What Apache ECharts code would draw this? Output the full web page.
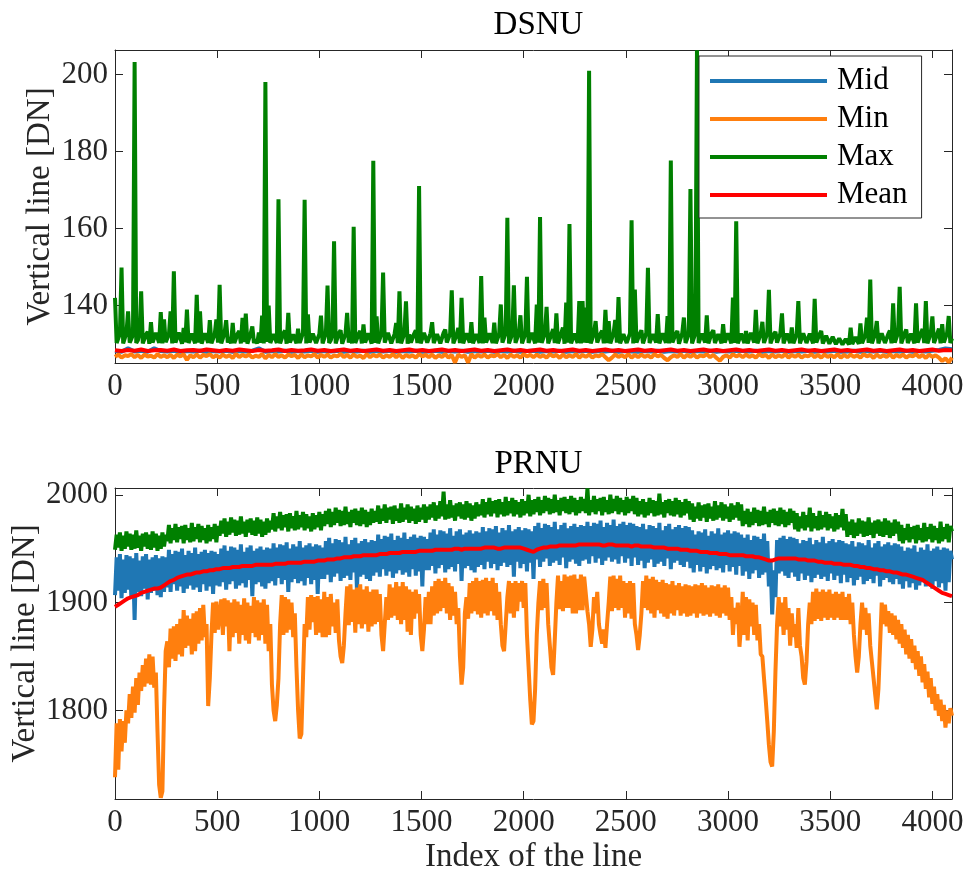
<!DOCTYPE html>
<html><head><meta charset="utf-8">
<script src="https://cdn.jsdelivr.net/npm/echarts@6/dist/echarts.min.js"></script>
<style>html,body{margin:0;padding:0;background:#fff}#c{width:967px;height:876px}</style>
</head><body><div id="c"></div><script>
// ---------- data ----------
const STEP_DENSE = 8;    // line index step between samples (dense noisy series)
const STEP_FINE = 16;
const STEP_COARSE = 32;
const seriesNames = ['Mid', 'Min', 'Max', 'Mean'];
const xTicks = [0, 500, 1000, 1500, 2000, 2500, 3000, 3500, 4000];
const dsnuTicks = [140, 160, 180, 200];
const prnuTicks = [1800, 1900, 2000];

// DSNU Mid (step 32)
const dsnuMid = [
128.2,128.0,128.9,128.1,128.3,128.0,128.9,128.2,128.1,128.3,128.0,128.2,128.1,128.3,128.0,128.2,
128.1,128.3,128.0,128.2,128.1,128.3,128.9,128.0,128.2,128.1,128.3,128.0,128.2,128.1,128.3,128.0,
128.2,128.1,128.3,128.0,128.2,128.1,128.3,128.0,128.2,128.1,128.3,128.0,128.2,128.1,128.3,128.0,
128.1,128.3,128.0,128.2,128.1,128.3,128.0,128.2,128.1,128.3,128.0,128.2,128.1,128.3,128.0,128.2,
128.3,128.0,128.2,128.1,128.3,128.0,128.2,128.1,128.3,128.0,128.2,128.1,128.3,128.0,128.2,128.1,
128.0,128.2,128.1,128.3,128.0,128.2,128.1,128.3,128.0,128.2,128.1,128.3,128.0,128.2,128.1,128.3,
128.2,128.1,128.3,128.0,128.2,128.1,128.3,128.0,128.2,128.1,128.3,128.0,128.2,128.1,128.3,128.0,
128.1,128.3,128.0,128.2,128.1,128.3,128.0,128.2,128.1,128.3,128.0,128.2,128.1,128.3,128.5,128.9,
128.7];
// DSNU Mean (step 32)
const dsnuMean = [
128.4,128.2,128.5,128.3,128.6,128.2,128.4,128.5,128.3,128.6,128.2,128.4,128.5,128.3,128.6,128.4,
128.2,128.5,128.3,128.6,128.4,128.2,128.5,128.3,128.4,128.6,128.2,128.5,128.3,128.4,128.6,128.3,
128.5,128.2,128.4,128.6,128.3,128.5,128.2,128.4,128.6,128.3,128.5,128.2,128.4,128.6,128.3,128.5,
128.2,128.4,128.6,128.3,128.5,128.2,128.4,128.6,128.3,128.5,128.2,128.4,128.6,128.3,128.5,128.2,
128.4,128.6,128.3,128.5,128.2,128.4,128.6,128.3,128.5,128.2,128.4,128.6,128.3,128.5,128.2,128.4,
128.6,128.3,128.5,128.2,128.4,128.6,128.3,128.5,128.2,128.4,128.6,128.3,128.5,128.2,128.4,128.6,
128.3,128.5,128.2,128.4,128.6,128.3,128.5,128.2,128.4,128.6,128.3,128.5,128.2,128.4,128.6,128.3,
128.5,128.2,128.4,128.6,128.3,128.5,128.2,128.4,128.6,128.3,128.5,128.2,128.4,128.6,128.3,128.5,
128.4];
// DSNU Min (step 16)
const dsnuMin = [
126.7,127.3,126.5,127.1,126.9,127.4,126.6,127.2,126.4,127.3,126.8,127.0,126.5,127.4,126.7,127.1,
126.6,127.2,126.4,127.3,126.8,127.4,125.9,127.1,126.6,127.3,126.5,127.2,126.9,127.4,126.6,127.1,
126.5,127.3,126.7,127.1,126.4,127.5,126.6,127.2,126.8,127.3,126.5,127.0,126.7,127.4,126.3,127.2,
126.6,127.4,126.7,127.1,126.5,127.3,126.9,127.2,126.4,127.3,126.6,127.1,126.8,127.4,126.5,127.2,
126.7,127.3,126.5,127.1,126.8,127.5,126.6,127.2,126.5,127.3,126.7,127.0,126.4,127.4,126.6,127.2,
126.8,127.3,126.5,127.1,126.7,127.4,126.6,127.3,126.4,127.2,126.7,127.1,126.5,127.4,126.8,127.2,
126.6,127.3,126.4,127.1,126.7,127.4,126.5,127.2,125.2,127.3,126.7,127.1,125.2,127.4,126.5,127.2,
126.7,127.3,126.5,127.1,126.8,127.4,126.6,127.2,126.4,127.3,126.7,127.1,126.5,127.4,126.8,127.2,
126.6,127.3,126.7,127.1,126.5,127.4,126.8,127.2,126.4,127.3,126.6,127.1,126.7,127.4,126.5,127.2,
126.7,127.3,126.5,127.1,126.8,127.4,126.6,125.8,126.5,127.3,126.7,127.1,126.6,127.4,126.5,127.2,
126.6,127.3,126.7,127.1,126.5,127.4,126.8,127.2,126.4,125.8,126.6,127.1,126.7,127.4,126.5,127.2,
126.7,127.3,126.5,127.1,126.8,127.4,126.6,127.2,126.4,125.7,126.7,127.1,126.5,127.4,126.8,127.2,
126.6,127.3,126.7,127.1,126.5,127.4,126.8,127.2,126.4,127.3,126.6,127.1,126.7,127.4,126.5,127.2,
126.7,127.3,126.5,127.1,126.8,127.4,126.6,127.2,126.5,127.3,126.7,127.1,126.6,127.4,126.5,127.2,
126.6,127.3,126.7,127.1,126.5,127.4,126.8,127.2,126.4,127.3,126.6,127.1,126.7,127.4,126.5,127.2,
126.7,127.3,126.5,127.1,126.8,127.4,126.6,127.2,126.4,127.3,126.7,127.1,126.5,125.6,126.3,125.3,
126.5];
// DSNU Max (step 8)
const dsnuMax = [
142.0,130.3,130.2,132.7,149.9,130.2,130.5,132.9,138.5,130.4,130.0,132.4,203.3,130.3,131.0,132.8,143.7,130.2,130.4,132.5,133.2,130.1,135.7,130.4,130.1,132.9,132.6,130.3,138.3,130.2,136.4,130.5,
130.3,132.6,138.5,130.2,148.9,130.4,130.6,133.0,132.8,130.1,134.2,130.5,139.0,130.3,130.2,132.7,133.0,130.2,142.8,130.4,138.5,130.1,130.4,132.8,132.5,130.3,136.2,130.2,130.0,132.6,136.4,130.4,
145.4,130.2,130.3,132.9,136.2,130.4,131.8,130.2,135.5,130.3,130.1,132.7,133.4,130.2,136.8,130.5,137.9,130.1,130.5,132.8,134.6,130.3,131.2,130.2,133.0,130.4,137.4,130.2,198.1,130.6,140.0,130.3,
130.2,132.6,132.9,130.3,167.6,130.2,130.4,132.8,133.5,130.1,138.1,130.4,130.0,132.5,132.7,130.2,134.0,130.3,130.3,132.9,167.5,130.2,137.7,130.4,130.1,132.7,133.1,130.3,130.6,132.6,137.4,130.2,
130.2,132.8,145.2,130.3,131.0,132.5,156.7,130.2,130.3,132.9,133.6,130.1,130.5,132.7,138.1,130.4,132.2,130.2,160.5,130.3,130.2,132.6,133.4,130.2,135.1,130.4,130.4,132.8,132.9,130.1,177.6,130.3,
137.2,130.2,130.3,132.7,148.6,130.4,130.6,132.9,133.2,130.2,130.1,132.6,135.5,130.3,143.7,130.2,130.4,132.8,141.1,130.1,132.5,130.4,130.2,132.7,133.6,130.3,171.1,130.2,130.5,132.9,132.8,130.4,
130.1,132.8,135.7,130.3,130.4,132.6,132.6,130.2,130.2,132.9,133.8,130.4,130.5,132.7,144.0,130.2,130.3,132.5,134.2,130.3,142.0,130.2,130.1,132.8,132.7,130.4,135.7,130.2,130.4,132.6,133.1,130.3,
147.7,130.2,136.9,130.4,130.2,132.8,133.0,130.3,135.6,130.2,130.3,132.7,140.3,130.4,130.6,132.9,162.8,130.2,130.2,132.6,145.3,130.3,130.5,132.8,137.5,130.2,130.1,132.7,147.5,130.3,130.4,132.9,
133.4,130.2,140.3,130.4,163.0,130.3,130.2,132.8,139.7,130.2,130.5,132.6,133.9,130.3,138.0,130.2,130.3,132.9,134.3,130.1,140.8,130.4,161.2,130.2,130.4,132.7,133.2,130.3,141.2,130.2,141.2,130.4,
139.5,130.3,201.0,130.2,130.3,132.8,136.0,130.4,130.6,132.7,133.5,130.2,138.9,130.3,136.0,130.2,130.2,132.9,136.3,130.4,142.2,130.2,130.4,132.6,133.0,130.3,130.1,132.8,162.2,130.2,144.2,130.4,
130.3,132.7,133.6,130.2,130.5,132.9,149.8,130.3,130.2,132.6,132.8,130.4,137.8,130.2,130.4,132.8,133.1,130.3,137.3,130.2,177.7,130.4,130.2,132.7,133.4,130.1,130.6,132.9,136.9,130.3,130.3,132.6,
170.3,130.2,130.4,132.8,206.3,130.3,130.2,132.7,133.2,130.4,137.5,130.2,130.5,132.9,133.6,130.3,130.2,132.6,132.9,130.2,135.2,130.4,130.4,132.8,133.0,130.2,142.1,130.3,161.9,130.2,130.3,132.7,
132.8,130.3,133.4,130.2,130.2,132.9,132.6,130.4,138.9,130.2,130.4,132.7,135.8,130.3,130.1,132.8,144.1,130.2,130.5,132.6,133.2,130.4,130.3,132.8,138.0,130.2,130.2,132.7,132.7,130.3,134.3,130.2,
130.4,132.6,141.2,130.2,130.2,132.8,132.9,130.3,130.5,132.7,133.1,130.2,141.8,130.4,130.3,132.6,133.4,130.2,130.1,132.2,132.4,130.1,130.0,131.9,131.8,130.0,129.9,131.5,131.2,129.9,129.9,131.3,
131.0,129.9,134.3,130.0,130.0,131.8,132.2,130.1,135.4,130.2,130.2,132.4,136.9,130.3,146.8,130.2,130.3,132.7,136.0,130.2,130.4,132.8,133.0,130.3,130.2,132.6,133.5,130.2,140.6,130.4,130.5,132.9,
144.9,130.2,130.3,132.8,133.8,130.3,130.4,132.7,133.2,130.2,140.6,130.4,130.2,132.9,133.9,130.3,141.2,130.2,130.5,132.8,137.2,130.3,130.3,132.7,134.0,130.2,135.2,130.4,130.6,132.9,137.3,130.3,
131.5];

// PRNU Mid (step 8)
const prnuMid = [
1907,1942,1911,1945,1904,1940,1909,1944,1912,1943,1905,1941,1884,1946,1910,1939,1906,1943,1913,1945,1903,1940,1909,1942,1911,1944,1907,1941,1905,1943,1910,1942,
1914,1949,1910,1945,1917,1948,1911,1947,1915,1950,1909,1944,1913,1948,1916,1946,1912,1951,1914,1945,1910,1947,1917,1949,1911,1946,1915,1948,1908,1947,1916,1945,
1915,1950,1919,1953,1912,1948,1917,1952,1920,1951,1913,1949,1916,1954,1918,1947,1914,1951,1921,1953,1906,1948,1917,1950,1919,1952,1915,1949,1913,1951,1918,1950,
1920,1955,1916,1951,1923,1954,1917,1953,1921,1956,1910,1950,1919,1954,1922,1952,1918,1957,1920,1951,1916,1953,1923,1955,1917,1952,1921,1954,1908,1953,1922,1951,
1922,1957,1926,1960,1919,1955,1924,1959,1927,1958,1920,1956,1923,1961,1925,1954,1921,1958,1928,1960,1912,1955,1924,1957,1926,1959,1922,1956,1920,1958,1925,1957,
1928,1963,1924,1959,1931,1962,1925,1961,1929,1964,1923,1958,1927,1962,1930,1960,1926,1965,1928,1959,1924,1961,1931,1963,1925,1960,1929,1962,1915,1961,1930,1959,
1930,1965,1934,1968,1927,1963,1932,1967,1935,1966,1928,1964,1931,1969,1933,1962,1929,1966,1936,1968,1920,1963,1932,1965,1934,1967,1930,1964,1928,1966,1933,1965,
1935,1970,1931,1966,1938,1969,1932,1968,1936,1971,1930,1965,1934,1969,1937,1967,1933,1972,1935,1966,1924,1968,1938,1970,1932,1967,1936,1969,1929,1968,1937,1966,
1922,1971,1940,1974,1933,1969,1938,1973,1941,1972,1934,1970,1937,1975,1939,1968,1935,1972,1942,1974,1932,1969,1938,1971,1940,1973,1936,1970,1934,1972,1939,1971,
1940,1975,1936,1971,1943,1974,1937,1973,1941,1976,1935,1970,1939,1974,1942,1972,1938,1977,1940,1971,1936,1973,1943,1975,1937,1972,1941,1974,1934,1973,1942,1971,
1935,1970,1939,1973,1932,1968,1937,1972,1940,1971,1933,1969,1936,1974,1938,1967,1934,1971,1941,1973,1931,1968,1937,1970,1939,1972,1935,1969,1933,1971,1938,1970,
1932,1967,1928,1963,1935,1966,1929,1965,1933,1968,1927,1962,1931,1966,1934,1964,1930,1969,1932,1963,1928,1965,1935,1967,1929,1964,1933,1966,1926,1965,1934,1963,
1925,1960,1929,1963,1922,1958,1927,1962,1930,1961,1923,1959,1926,1964,1928,1957,1915,1940,1889,1930,1905,1958,1927,1960,1929,1962,1925,1959,1923,1961,1928,1960,
1924,1959,1920,1955,1927,1958,1921,1957,1925,1960,1919,1954,1923,1958,1926,1956,1922,1961,1924,1955,1920,1957,1927,1959,1921,1956,1925,1958,1918,1957,1926,1955,
1919,1954,1923,1957,1916,1952,1921,1956,1924,1955,1917,1953,1920,1958,1922,1951,1918,1955,1925,1957,1915,1952,1921,1954,1923,1956,1919,1953,1917,1955,1922,1954,
1917,1952,1913,1948,1920,1951,1914,1950,1918,1953,1912,1947,1916,1951,1919,1949,1915,1954,1917,1948,1913,1950,1920,1952,1914,1949,1918,1951,1911,1950,1919,1948,
1940];
// PRNU Min (step 8)
const prnuMin = [
1738,1788,1745,1792,1762,1790,1770,1800,1788,1815,1793,1822,1798,1830,1805,1835,1818,1842,1822,1848,1825,1852,1824,1850,1821,1835,1780,1731,1719,1725,1800,1855,
1864,1840,1876,1848,1878,1846,1880,1852,1885,1850,1893,1858,1888,1860,1885,1852,1890,1855,1892,1862,1895,1865,1898,1868,1880,1804,1830,1870,1900,1872,1901,1875,
1876,1903,1870,1904,1878,1902,1855,1900,1868,1903,1872,1901,1862,1898,1870,1904,1865,1900,1862,1897,1872,1905,1868,1902,1865,1900,1870,1903,1862,1898,1855,1880,
1824,1800,1790,1805,1830,1880,1907,1870,1905,1872,1903,1875,1900,1868,1890,1840,1800,1774,1778,1830,1880,1868,1905,1875,1907,1882,1905,1870,1906,1872,1903,1868,
1910,1868,1905,1870,1908,1878,1900,1872,1903,1865,1850,1844,1860,1890,1915,1879,1917,1882,1912,1872,1914,1880,1917,1876,1912,1880,1915,1873,1910,1878,1912,1880,
1912,1882,1908,1870,1855,1880,1905,1884,1917,1886,1914,1888,1919,1884,1915,1880,1919,1884,1915,1873,1912,1870,1910,1885,1912,1890,1908,1870,1855,1875,1905,1880,
1910,1880,1915,1888,1920,1890,1922,1892,1920,1895,1923,1890,1918,1884,1915,1888,1910,1880,1895,1850,1824,1840,1890,1905,1885,1918,1890,1920,1892,1923,1889,1920,
1886,1921,1890,1923,1888,1920,1892,1923,1888,1918,1884,1910,1880,1860,1855,1880,1905,1920,1890,1918,1886,1920,1892,1918,1901,1920,1895,1918,1870,1840,1810,1787,
1790,1820,1870,1900,1920,1893,1922,1895,1918,1880,1860,1840,1833,1865,1900,1925,1894,1920,1892,1926,1895,1924,1895,1925,1890,1926,1890,1922,1893,1926,1893,1924,
1924,1892,1880,1859,1875,1905,1890,1910,1880,1870,1862,1875,1858,1880,1900,1924,1892,1925,1895,1922,1893,1925,1895,1920,1886,1918,1890,1920,1885,1918,1880,1870,
1856,1870,1890,1920,1895,1925,1893,1922,1890,1924,1886,1921,1893,1919,1890,1921,1887,1918,1885,1917,1890,1920,1888,1916,1893,1918,1888,1915,1890,1917,1887,1916,
1888,1915,1890,1917,1886,1916,1890,1918,1888,1916,1889,1914,1887,1916,1890,1915,1888,1917,1886,1914,1890,1916,1888,1914,1884,1905,1870,1895,1880,1900,1859,1880,
1910,1870,1905,1865,1903,1878,1900,1870,1898,1865,1880,1852,1850,1830,1811,1790,1768,1752,1748,1780,1836,1880,1905,1878,1900,1870,1905,1875,1895,1860,1890,1868,
1880,1858,1895,1860,1850,1830,1824,1845,1880,1900,1880,1910,1883,1913,1885,1910,1883,1912,1886,1910,1884,1912,1886,1908,1884,1910,1886,1908,1884,1910,1884,1905,
1884,1908,1880,1900,1870,1850,1835,1850,1880,1900,1875,1895,1870,1890,1860,1845,1830,1815,1801,1820,1860,1900,1880,1898,1878,1892,1872,1890,1870,1888,1866,1884,
1862,1880,1858,1875,1852,1870,1848,1866,1844,1860,1838,1855,1832,1850,1826,1843,1820,1836,1812,1830,1806,1822,1800,1815,1795,1810,1790,1805,1784,1800,1788,1802,
1795];
// PRNU Max (step 8)
const prnuMax = [
1949,1963,1951,1965,1948,1962,1950,1966,1952,1964,1949,1963,1950,1967,1951,1962,1948,1964,1952,1965,1950,1963,1949,1966,1951,1964,1948,1962,1950,1965,1952,1963,
1957,1972,1955,1969,1958,1973,1956,1970,1959,1971,1955,1972,1958,1969,1956,1974,1957,1970,1959,1973,1956,1971,1958,1969,1955,1972,1957,1970,1959,1973,1956,1971,
1962,1976,1964,1978,1961,1975,1963,1979,1965,1977,1962,1976,1963,1980,1964,1975,1961,1977,1965,1978,1963,1976,1962,1979,1964,1977,1961,1975,1963,1978,1965,1976,
1968,1983,1966,1980,1969,1984,1967,1981,1970,1982,1966,1983,1969,1980,1967,1985,1968,1981,1970,1984,1967,1982,1969,1980,1966,1983,1968,1981,1970,1984,1967,1982,
1971,1985,1973,1987,1970,1984,1972,1988,1974,1986,1971,1985,1972,1989,1973,1984,1970,1986,1974,1987,1972,1985,1971,1988,1973,1986,1970,1984,1972,1987,1974,1985,
1975,1990,1973,1987,1976,1991,1974,1988,1977,1989,1973,1990,1976,1987,1974,1992,1975,1988,1977,1991,1974,1989,1976,1987,1973,1990,1975,1988,1977,1991,1974,1989,
1977,1991,1979,1993,1976,1990,1978,1994,1980,2003,1977,1991,1978,1995,1979,1990,1976,1992,1980,1993,1978,1991,1977,1994,1979,1992,1976,1990,1978,1993,1980,1991,
1981,1996,1979,1993,1982,1997,1980,1994,1983,1995,1979,1996,1982,1993,1980,1998,1981,1994,1983,1997,1980,1995,1982,1993,1979,1996,1981,1994,1983,2000,1980,1995,
1982,1996,1984,1998,1981,1995,1983,1999,1985,1997,1982,1996,1983,2000,1984,1995,1981,1997,1985,1998,1983,1996,1982,1999,1984,1997,1981,1995,1983,1998,1985,1996,
1983,2006,1981,1995,1984,1999,1982,1996,1985,1997,1981,1998,1984,1995,1982,2000,1983,1996,1985,1999,1982,1997,1984,1995,1981,1998,1983,1996,1985,1999,1982,1997,
1980,1994,1982,1996,1979,1993,1981,1997,1983,1995,1980,1994,1981,2001,1982,1993,1979,1995,1983,1996,1981,1994,1980,1997,1982,1995,1979,1993,1981,1996,1983,1994,
1977,1992,1975,1989,1978,1993,1976,1990,1979,1991,1975,1992,1978,1989,1976,1994,1977,1990,1979,1993,1976,1991,1978,1989,1975,1992,1977,1990,1979,1993,1976,1991,
1971,1985,1973,1987,1970,1984,1972,1988,1974,1986,1971,1985,1972,1989,1973,1984,1970,1986,1974,1987,1972,1985,1971,1988,1973,1986,1970,1984,1972,1987,1974,1985,
1968,1983,1966,1980,1969,1984,1967,1981,1970,1988,1966,1983,1969,1980,1967,1985,1968,1981,1970,1984,1967,1982,1969,1980,1966,1983,1968,1981,1970,1987,1967,1982,
1961,1975,1963,1977,1960,1974,1962,1978,1964,1976,1961,1975,1962,1979,1963,1974,1960,1976,1964,1977,1962,1975,1961,1978,1963,1976,1960,1974,1962,1977,1964,1975,
1957,1972,1955,1969,1958,1973,1956,1970,1959,1971,1955,1972,1958,1969,1956,1974,1957,1970,1959,1973,1956,1971,1958,1969,1955,1975,1957,1970,1959,1973,1956,1971,
1966];
// PRNU Mean (step 16)
const prnuMean = [
1896,1898,1900,1902,1904,1905,1906,1907,1909,1910,1911,1912,1913,1913,1914,1916,
1918,1920,1921,1923,1924,1925,1926,1926,1927,1928,1928,1929,1929,1930,1930,1931,
1931,1932,1932,1932,1933,1933,1933,1934,1934,1934,1934,1935,1935,1935,1935,1935,
1935,1936,1936,1936,1936,1937,1937,1937,1937,1937,1938,1938,1938,1938,1939,1939,
1939,1940,1940,1940,1941,1941,1942,1942,1942,1943,1943,1943,1944,1944,1944,1944,
1944,1945,1945,1945,1946,1946,1946,1946,1947,1947,1947,1947,1947,1948,1948,1948,
1948,1948,1949,1949,1949,1949,1949,1949,1950,1950,1949,1950,1950,1950,1950,1950,
1950,1951,1951,1951,1951,1950,1950,1951,1951,1951,1951,1951,1951,1950,1949,1948,
1947,1949,1950,1951,1951,1952,1952,1952,1953,1953,1953,1953,1953,1953,1954,1954,
1954,1954,1954,1954,1954,1953,1953,1954,1954,1953,1953,1953,1953,1953,1952,1953,
1953,1952,1952,1952,1952,1951,1951,1951,1951,1950,1950,1950,1950,1949,1949,1949,
1948,1948,1948,1947,1947,1947,1946,1946,1946,1945,1945,1945,1944,1944,1944,1944,
1944,1943,1943,1943,1942,1942,1941,1940,1939,1939,1940,1941,1941,1941,1941,1941,
1941,1940,1940,1940,1939,1939,1939,1938,1938,1937,1937,1937,1936,1936,1936,1935,
1935,1935,1934,1934,1933,1933,1932,1932,1931,1931,1930,1930,1929,1929,1928,1928,
1927,1926,1926,1925,1924,1923,1922,1921,1919,1917,1915,1913,1911,1909,1908,1907,
1906];

// ---------- chart ----------
const FONT = 'Liberation Serif';
const AX = '#262626';
const colors = {Mid: '#1f77b4', Min: '#ff7f0e', Max: '#008000', Mean: '#ff0000'};
const X_MIN = 0, X_MAX = 4096;
const DSNU_RANGE = [125.1, 206.4];
const PRNU_RANGE = [1717.8, 2006.3];
const LW = 4;

function toPairs(arr, step) { return arr.map((v, i) => [i * step, v]); }
const plain = v => String(v);

const chart = echarts.init(document.getElementById('c'), null, {renderer: 'canvas'});

function xAxisPair(gridIndex, withName) {
  const base = {
    type: 'value', gridIndex, min: X_MIN, max: X_MAX,
    splitLine: {show: false},
    axisLine: {show: true, onZero: false, lineStyle: {color: AX, width: 1}},
    axisTick: {show: true, inside: true, length: 8, customValues: xTicks, lineStyle: {color: AX, width: 1}},
  };
  const bottom = Object.assign({}, base, {
    position: 'bottom',
    axisLabel: {show: true, customValues: xTicks, formatter: plain, margin: 8, fontFamily: FONT, fontSize: 31, color: AX},
  });
  if (withName) Object.assign(bottom, {
    name: 'Index of the line', nameLocation: 'middle', nameGap: 42, nameMoveOverlap: false,
    nameTextStyle: {fontFamily: FONT, fontSize: 33, color: AX}
  });
  const top = Object.assign({}, base, {position: 'top', axisLabel: {show: false}});
  return [bottom, top];
}
function yAxisPair(gridIndex, range, ticks, nameGap) {
  const base = {
    type: 'value', gridIndex, min: range[0], max: range[1],
    splitLine: {show: false},
    axisLine: {show: true, onZero: false, lineStyle: {color: AX, width: 1}},
    axisTick: {show: true, inside: true, length: 8, customValues: ticks, lineStyle: {color: AX, width: 1}},
  };
  const left = Object.assign({}, base, {
    position: 'left',
    axisLabel: {show: true, customValues: ticks, formatter: plain, margin: 7, fontFamily: FONT, fontSize: 31, color: AX},
    name: 'Vertical line [DN]', nameLocation: 'middle', nameGap: nameGap, nameRotate: 90, nameMoveOverlap: false,
    nameTextStyle: {fontFamily: FONT, fontSize: 33, color: AX}
  });
  const right = Object.assign({}, base, {position: 'right', axisLabel: {show: false}});
  return [left, right];
}

const xAxes = [...xAxisPair(0, false), ...xAxisPair(1, true)];
const yAxes = [...yAxisPair(0, DSNU_RANGE, dsnuTicks, 58), ...yAxisPair(1, PRNU_RANGE, prnuTicks, 73)];

function mk(name, data, step, xi, yi) {
  return {
    name, type: 'line', xAxisIndex: xi, yAxisIndex: yi,
    data: toPairs(data, step), symbol: 'none', showSymbol: false,
    lineStyle: {width: LW, color: colors[name]}, itemStyle: {color: colors[name]},
    clip: true, animation: false, silent: true
  };
}

const option = {
  backgroundColor: '#ffffff',
  animation: false,
  title: [
    {text: 'DSNU', left: 533.5, top: 4, textAlign: 'center',
     textStyle: {fontFamily: FONT, fontSize: 33, fontWeight: 'normal', color: '#000'}},
    {text: 'PRNU', left: 533.5, top: 443, textAlign: 'center',
     textStyle: {fontFamily: FONT, fontSize: 33, fontWeight: 'normal', color: '#000'}}
  ],
  grid: [
    {left: 115, top: 50, width: 837, height: 313, containLabel: false, outerBoundsMode: 'none'},
    {left: 115, top: 488, width: 837, height: 311, containLabel: false, outerBoundsMode: 'none'}
  ],
  xAxis: xAxes,
  yAxis: yAxes,
  legend: {
    data: seriesNames, orient: 'vertical', left: 699, top: 56,
    backgroundColor: '#ffffff', borderColor: AX, borderWidth: 1, borderRadius: 0,
    padding: [6, 14, 4, 11], itemGap: 0, itemWidth: 117, itemHeight: 4, icon: 'rect',
    textStyle: {fontFamily: FONT, fontSize: 31, color: '#000', lineHeight: 38, padding: [0, 0, 0, 5]}
  },
  series: [
    mk('Mid', dsnuMid, STEP_COARSE, 0, 0),
    mk('Min', dsnuMin, STEP_FINE, 0, 0),
    mk('Max', dsnuMax, STEP_DENSE, 0, 0),
    mk('Mean', dsnuMean, STEP_COARSE, 0, 0),
    mk('Mid', prnuMid, STEP_DENSE, 2, 2),
    mk('Min', prnuMin, STEP_DENSE, 2, 2),
    mk('Max', prnuMax, STEP_DENSE, 2, 2),
    mk('Mean', prnuMean, STEP_FINE, 2, 2)
  ]
};
chart.setOption(option);
</script></body></html>
